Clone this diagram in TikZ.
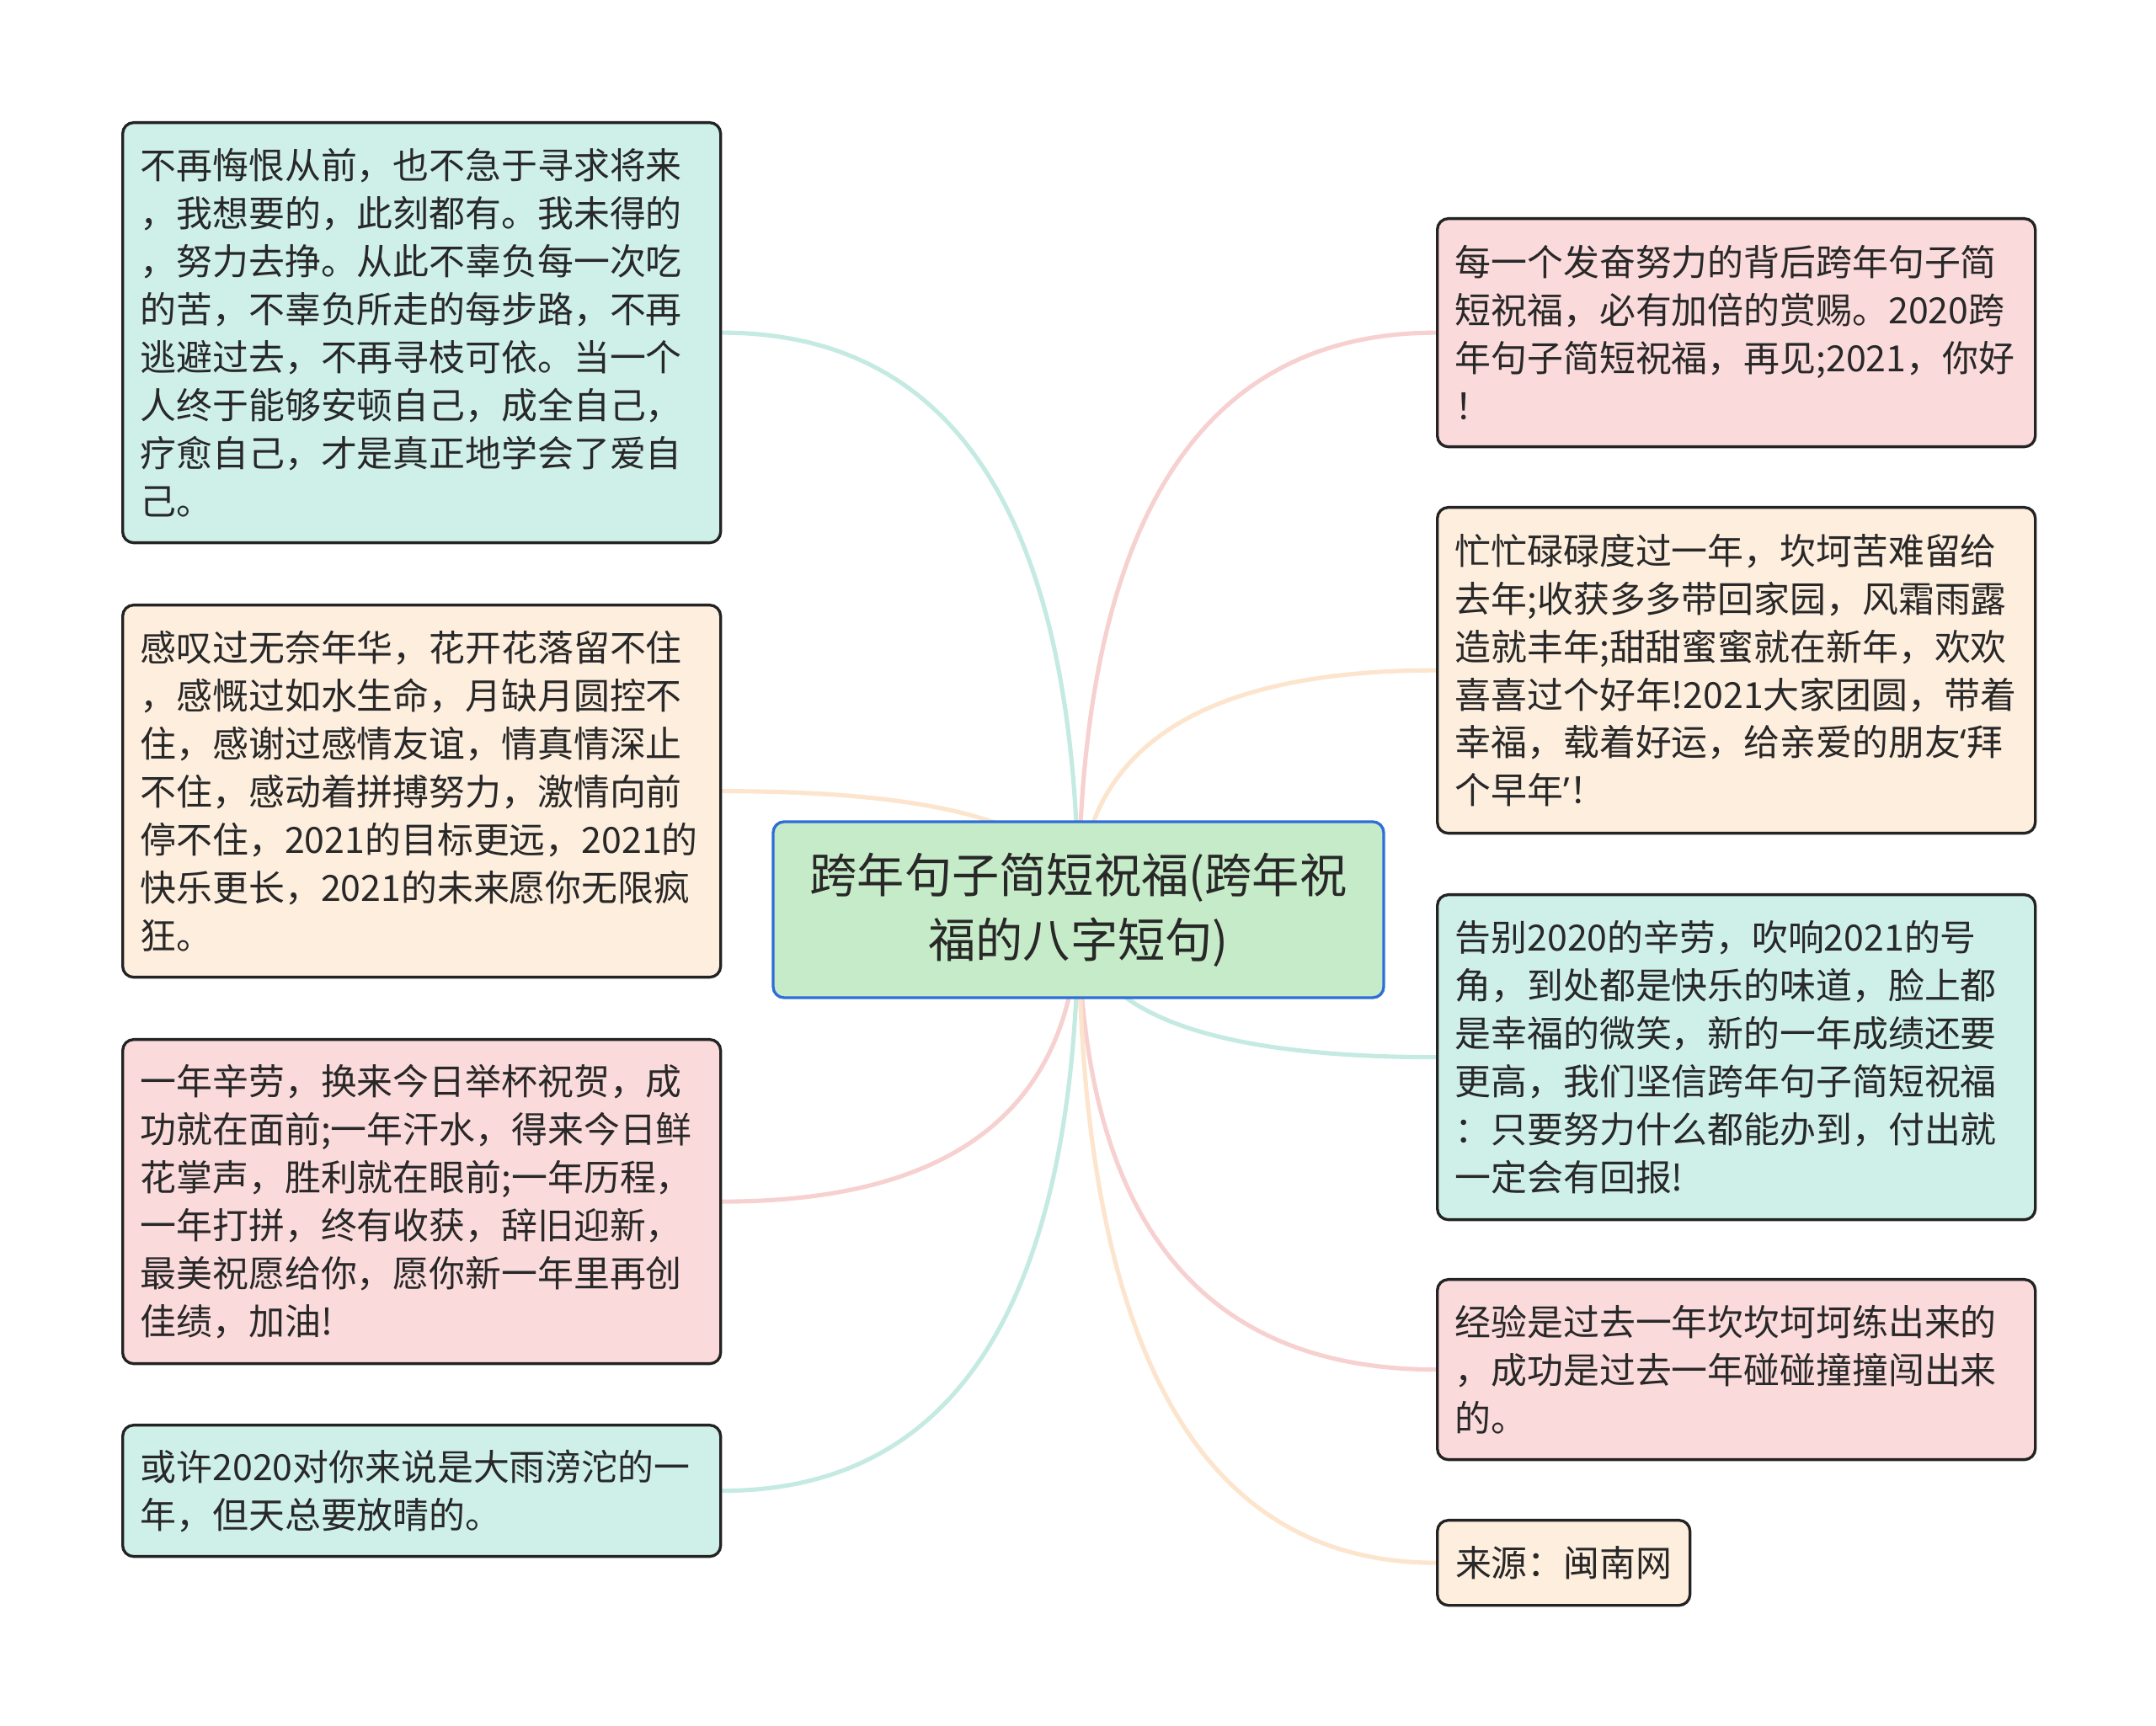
\documentclass[tikz,border=0pt]{standalone}
\usepackage{fontspec}
\setmainfont{Noto Sans CJK SC}
\newfontfamily\westfont{Noto Sans}
\usepackage{xcolor}
\usetikzlibrary{calc,backgrounds}

\definecolor{ink}{RGB}{40,40,40}
\definecolor{boxline}{RGB}{35,35,35}
\definecolor{tealfill}{RGB}{206,240,233}
\definecolor{orangefill}{RGB}{254,238,222}
\definecolor{pinkfill}{RGB}{251,218,219}
\definecolor{rootfill}{RGB}{198,235,200}
\definecolor{rootline}{RGB}{45,110,215}
\definecolor{tealline}{RGB}{196,234,226}
\definecolor{orangeline}{RGB}{252,228,205}
\definecolor{pinkline}{RGB}{247,208,208}

\begin{document}
\begin{tikzpicture}[x=1cm,y=1cm,
  leaf/.style={draw=boxline,line width=0.95pt,rounded corners=0.13cm,align=left,anchor=north west,
    font=\fontsize{12.2pt}{16.2pt}\selectfont,text=ink,inner xsep=0.21cm,inner ysep=0pt,text width=6.68cm},
  root/.style={draw=rootline,fill=rootfill,line width=0.95pt,rounded corners=0.13cm,align=center,
    font=\fontsize{16pt}{22pt}\selectfont,text=ink,minimum width=7.25cm,minimum height=2.09cm},
  link/.style={line width=1.45pt}
]
  \useasboundingbox (0,0) rectangle (25.60,20.49);

  % centre topic
  \node[root] (root) at (12.805,9.685) {跨年句子简短祝福(跨年祝\\福的八字短句)};

  % left side
  \node[leaf,fill=tealfill,minimum height=4.99cm] (L1) at (1.44,19.05)
    {不再悔恨从前，也不急于寻求将来\\，我想要的，此刻都有。我未得的\\，努力去挣。从此不辜负每一次吃\\的苦，不辜负所走的每步路，不再\\逃避过去，不再寻枝可依。当一个\\人终于能够安顿自己，成全自己，\\疗愈自己，才是真正地学会了爱自\\己。};
  \node[leaf,fill=orangefill,minimum height=4.42cm] (L2) at (1.44,13.32)
    {感叹过无奈年华，花开花落留不住\\，感慨过如水生命，月缺月圆控不\\住，感谢过感情友谊，情真情深止\\不住，感动着拼搏努力，激情向前\\停不住，2021的目标更远，2021的\\快乐更长，2021的未来愿你无限疯\\狂。};
  \node[leaf,fill=pinkfill,minimum height=3.85cm] (L3) at (1.44,8.16)
    {一年辛劳，换来今日举杯祝贺，成\\功就在面前;一年汗水，得来今日鲜\\花掌声，胜利就在眼前;一年历程，\\一年打拼，终有收获，辞旧迎新，\\最美祝愿给你，愿你新一年里再创\\佳绩，加油!};
  \node[leaf,fill=tealfill,minimum height=1.56cm] (L4) at (1.44,3.58)
    {或许2020对你来说是大雨滂沱的一\\年，但天总要放晴的。};

  % right side
  \node[leaf,fill=pinkfill,minimum height=2.71cm] (R1) at (17.05,17.91)
    {每一个发奋努力的背后跨年句子简\\短祝福，必有加倍的赏赐。2020跨\\年句子简短祝福，再见;2021，你好\\！};
  \node[leaf,fill=orangefill,minimum height=3.87cm] (R2) at (17.05,14.48)
    {忙忙碌碌度过一年，坎坷苦难留给\\去年;收获多多带回家园，风霜雨露\\造就丰年;甜甜蜜蜜就在新年，欢欢\\喜喜过个好年!2021大家团圆，带着\\幸福，载着好运，给亲爱的朋友{\westfont ‘}拜\\个早年{\westfont ’}！};
  \node[leaf,fill=tealfill,minimum height=3.86cm] (R3) at (17.05,9.88)
    {告别2020的辛劳，吹响2021的号\\角，到处都是快乐的味道，脸上都\\是幸福的微笑，新的一年成绩还要\\更高，我们坚信跨年句子简短祝福\\：只要努力什么都能办到，付出就\\一定会有回报!};
  \node[leaf,fill=pinkfill,minimum height=2.14cm] (R4) at (17.05,5.31)
    {经验是过去一年坎坎坷坷练出来的\\，成功是过去一年碰碰撞撞闯出来\\的。};
  \node[leaf,fill=orangefill,minimum height=1.01cm,text width=,minimum width=3.00cm] (R5) at (17.05,2.45)
    {来源：闽南网};

  % branches
  \begin{scope}[on background layer]
    \draw[link,draw=tealline] (root.center) .. controls ($(root.center)!2/3!(root.center|-L1.east)$) and ($(L1.east)!2/3!(root.center|-L1.east)$) .. (L1.east);
    \draw[link,draw=orangeline] (root.center) .. controls ($(root.center)!2/3!(root.center|-L2.east)$) and ($(L2.east)!2/3!(root.center|-L2.east)$) .. (L2.east);
    \draw[link,draw=pinkline] (root.center) .. controls ($(root.center)!2/3!(root.center|-L3.east)$) and ($(L3.east)!2/3!(root.center|-L3.east)$) .. (L3.east);
    \draw[link,draw=tealline] (root.center) .. controls ($(root.center)!2/3!(root.center|-L4.east)$) and ($(L4.east)!2/3!(root.center|-L4.east)$) .. (L4.east);
    \draw[link,draw=pinkline] (root.center) .. controls ($(root.center)!2/3!(root.center|-R1.west)$) and ($(R1.west)!2/3!(root.center|-R1.west)$) .. (R1.west);
    \draw[link,draw=orangeline] (root.center) .. controls ($(root.center)!2/3!(root.center|-R2.west)$) and ($(R2.west)!2/3!(root.center|-R2.west)$) .. (R2.west);
    \draw[link,draw=tealline] (root.center) .. controls ($(root.center)!2/3!(root.center|-R3.west)$) and ($(R3.west)!2/3!(root.center|-R3.west)$) .. (R3.west);
    \draw[link,draw=pinkline] (root.center) .. controls ($(root.center)!2/3!(root.center|-R4.west)$) and ($(R4.west)!2/3!(root.center|-R4.west)$) .. (R4.west);
    \draw[link,draw=orangeline] (root.center) .. controls ($(root.center)!2/3!(root.center|-R5.west)$) and ($(R5.west)!2/3!(root.center|-R5.west)$) .. (R5.west);
  \end{scope}
\end{tikzpicture}
\end{document}
